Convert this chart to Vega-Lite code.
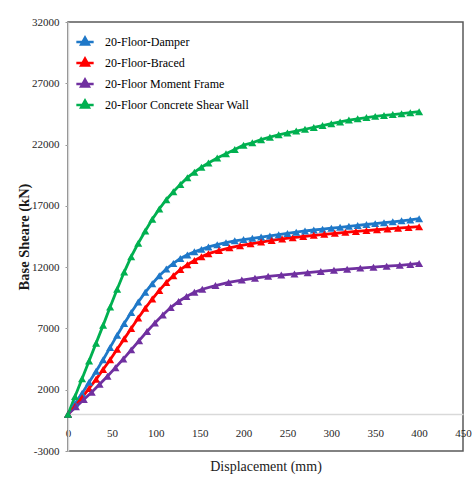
{
  "$schema": "https://vega.github.io/schema/vega-lite/v6.json",
  "width": 395,
  "height": 429,
  "autosize": {"type": "none"},
  "padding": {"left": 68, "top": 22, "right": 10, "bottom": 26},
  "background": "white",
  "config": {"view": {"stroke": "#595959", "strokeWidth": 1.5}, "font": "Liberation Serif"},
  "data": {"values": [
    {"s":"20-Floor-Damper","d":0,"v":0},{"s":"20-Floor-Damper","d":8,"v":850},{"s":"20-Floor-Damper","d":16,"v":1700},{"s":"20-Floor-Damper","d":24,"v":2600},{"s":"20-Floor-Damper","d":32,"v":3500},{"s":"20-Floor-Damper","d":40,"v":4450},{"s":"20-Floor-Damper","d":48,"v":5450},{"s":"20-Floor-Damper","d":56,"v":6450},{"s":"20-Floor-Damper","d":64,"v":7400},{"s":"20-Floor-Damper","d":72,"v":8300},{"s":"20-Floor-Damper","d":80,"v":9150},{"s":"20-Floor-Damper","d":88,"v":9950},{"s":"20-Floor-Damper","d":96,"v":10650},{"s":"20-Floor-Damper","d":104,"v":11300},{"s":"20-Floor-Damper","d":112,"v":11850},{"s":"20-Floor-Damper","d":120,"v":12300},{"s":"20-Floor-Damper","d":128,"v":12700},{"s":"20-Floor-Damper","d":136,"v":13000},{"s":"20-Floor-Damper","d":144,"v":13250},{"s":"20-Floor-Damper","d":152,"v":13450},{"s":"20-Floor-Damper","d":160,"v":13650},{"s":"20-Floor-Damper","d":170,"v":13830},{"s":"20-Floor-Damper","d":180,"v":14000},{"s":"20-Floor-Damper","d":190,"v":14150},{"s":"20-Floor-Damper","d":200,"v":14250},{"s":"20-Floor-Damper","d":210,"v":14350},{"s":"20-Floor-Damper","d":220,"v":14450},{"s":"20-Floor-Damper","d":230,"v":14550},{"s":"20-Floor-Damper","d":240,"v":14650},{"s":"20-Floor-Damper","d":250,"v":14750},{"s":"20-Floor-Damper","d":260,"v":14850},{"s":"20-Floor-Damper","d":270,"v":14950},{"s":"20-Floor-Damper","d":280,"v":15030},{"s":"20-Floor-Damper","d":290,"v":15100},{"s":"20-Floor-Damper","d":300,"v":15180},{"s":"20-Floor-Damper","d":310,"v":15250},{"s":"20-Floor-Damper","d":320,"v":15330},{"s":"20-Floor-Damper","d":330,"v":15400},{"s":"20-Floor-Damper","d":340,"v":15480},{"s":"20-Floor-Damper","d":350,"v":15550},{"s":"20-Floor-Damper","d":360,"v":15630},{"s":"20-Floor-Damper","d":370,"v":15700},{"s":"20-Floor-Damper","d":380,"v":15780},{"s":"20-Floor-Damper","d":390,"v":15850},{"s":"20-Floor-Damper","d":400,"v":15950},
    {"s":"20-Floor-Braced","d":0,"v":0},{"s":"20-Floor-Braced","d":8,"v":650},{"s":"20-Floor-Braced","d":16,"v":1350},{"s":"20-Floor-Braced","d":24,"v":2100},{"s":"20-Floor-Braced","d":32,"v":2850},{"s":"20-Floor-Braced","d":40,"v":3650},{"s":"20-Floor-Braced","d":48,"v":4450},{"s":"20-Floor-Braced","d":56,"v":5300},{"s":"20-Floor-Braced","d":64,"v":6150},{"s":"20-Floor-Braced","d":72,"v":7000},{"s":"20-Floor-Braced","d":80,"v":7850},{"s":"20-Floor-Braced","d":88,"v":8650},{"s":"20-Floor-Braced","d":96,"v":9400},{"s":"20-Floor-Braced","d":104,"v":10100},{"s":"20-Floor-Braced","d":112,"v":10750},{"s":"20-Floor-Braced","d":120,"v":11300},{"s":"20-Floor-Braced","d":128,"v":11800},{"s":"20-Floor-Braced","d":136,"v":12200},{"s":"20-Floor-Braced","d":144,"v":12550},{"s":"20-Floor-Braced","d":152,"v":12850},{"s":"20-Floor-Braced","d":160,"v":13100},{"s":"20-Floor-Braced","d":172,"v":13350},{"s":"20-Floor-Braced","d":184,"v":13580},{"s":"20-Floor-Braced","d":196,"v":13750},{"s":"20-Floor-Braced","d":208,"v":13900},{"s":"20-Floor-Braced","d":220,"v":14050},{"s":"20-Floor-Braced","d":232,"v":14180},{"s":"20-Floor-Braced","d":244,"v":14300},{"s":"20-Floor-Braced","d":256,"v":14400},{"s":"20-Floor-Braced","d":268,"v":14500},{"s":"20-Floor-Braced","d":280,"v":14600},{"s":"20-Floor-Braced","d":292,"v":14680},{"s":"20-Floor-Braced","d":304,"v":14760},{"s":"20-Floor-Braced","d":316,"v":14840},{"s":"20-Floor-Braced","d":328,"v":14910},{"s":"20-Floor-Braced","d":340,"v":14980},{"s":"20-Floor-Braced","d":352,"v":15050},{"s":"20-Floor-Braced","d":364,"v":15120},{"s":"20-Floor-Braced","d":376,"v":15180},{"s":"20-Floor-Braced","d":388,"v":15240},{"s":"20-Floor-Braced","d":400,"v":15300},
    {"s":"20-Floor Moment Frame","d":0,"v":0},{"s":"20-Floor Moment Frame","d":9,"v":600},{"s":"20-Floor Moment Frame","d":18,"v":1200},{"s":"20-Floor Moment Frame","d":27,"v":1800},{"s":"20-Floor Moment Frame","d":36,"v":2450},{"s":"20-Floor Moment Frame","d":45,"v":3100},{"s":"20-Floor Moment Frame","d":54,"v":3800},{"s":"20-Floor Moment Frame","d":63,"v":4500},{"s":"20-Floor Moment Frame","d":72,"v":5250},{"s":"20-Floor Moment Frame","d":81,"v":6000},{"s":"20-Floor Moment Frame","d":90,"v":6750},{"s":"20-Floor Moment Frame","d":99,"v":7450},{"s":"20-Floor Moment Frame","d":108,"v":8100},{"s":"20-Floor Moment Frame","d":117,"v":8700},{"s":"20-Floor Moment Frame","d":126,"v":9200},{"s":"20-Floor Moment Frame","d":135,"v":9600},{"s":"20-Floor Moment Frame","d":144,"v":9950},{"s":"20-Floor Moment Frame","d":153,"v":10200},{"s":"20-Floor Moment Frame","d":168,"v":10500},{"s":"20-Floor Moment Frame","d":183,"v":10750},{"s":"20-Floor Moment Frame","d":198,"v":10950},{"s":"20-Floor Moment Frame","d":213,"v":11100},{"s":"20-Floor Moment Frame","d":228,"v":11250},{"s":"20-Floor Moment Frame","d":243,"v":11350},{"s":"20-Floor Moment Frame","d":258,"v":11450},{"s":"20-Floor Moment Frame","d":273,"v":11550},{"s":"20-Floor Moment Frame","d":288,"v":11650},{"s":"20-Floor Moment Frame","d":303,"v":11750},{"s":"20-Floor Moment Frame","d":318,"v":11830},{"s":"20-Floor Moment Frame","d":333,"v":11920},{"s":"20-Floor Moment Frame","d":348,"v":12000},{"s":"20-Floor Moment Frame","d":363,"v":12080},{"s":"20-Floor Moment Frame","d":378,"v":12150},{"s":"20-Floor Moment Frame","d":390,"v":12220},{"s":"20-Floor Moment Frame","d":400,"v":12300},
    {"s":"20-Floor Concrete Shear Wall","d":0,"v":0},{"s":"20-Floor Concrete Shear Wall","d":8,"v":1450},{"s":"20-Floor Concrete Shear Wall","d":16,"v":2900},{"s":"20-Floor Concrete Shear Wall","d":24,"v":4350},{"s":"20-Floor Concrete Shear Wall","d":32,"v":5800},{"s":"20-Floor Concrete Shear Wall","d":40,"v":7250},{"s":"20-Floor Concrete Shear Wall","d":48,"v":8750},{"s":"20-Floor Concrete Shear Wall","d":56,"v":10200},{"s":"20-Floor Concrete Shear Wall","d":64,"v":11600},{"s":"20-Floor Concrete Shear Wall","d":72,"v":12850},{"s":"20-Floor Concrete Shear Wall","d":80,"v":13950},{"s":"20-Floor Concrete Shear Wall","d":88,"v":14950},{"s":"20-Floor Concrete Shear Wall","d":96,"v":15900},{"s":"20-Floor Concrete Shear Wall","d":104,"v":16750},{"s":"20-Floor Concrete Shear Wall","d":112,"v":17500},{"s":"20-Floor Concrete Shear Wall","d":120,"v":18150},{"s":"20-Floor Concrete Shear Wall","d":128,"v":18750},{"s":"20-Floor Concrete Shear Wall","d":136,"v":19300},{"s":"20-Floor Concrete Shear Wall","d":144,"v":19750},{"s":"20-Floor Concrete Shear Wall","d":152,"v":20150},{"s":"20-Floor Concrete Shear Wall","d":160,"v":20500},{"s":"20-Floor Concrete Shear Wall","d":170,"v":20900},{"s":"20-Floor Concrete Shear Wall","d":180,"v":21250},{"s":"20-Floor Concrete Shear Wall","d":190,"v":21600},{"s":"20-Floor Concrete Shear Wall","d":200,"v":21950},{"s":"20-Floor Concrete Shear Wall","d":210,"v":22150},{"s":"20-Floor Concrete Shear Wall","d":220,"v":22400},{"s":"20-Floor Concrete Shear Wall","d":230,"v":22600},{"s":"20-Floor Concrete Shear Wall","d":240,"v":22800},{"s":"20-Floor Concrete Shear Wall","d":250,"v":22950},{"s":"20-Floor Concrete Shear Wall","d":260,"v":23100},{"s":"20-Floor Concrete Shear Wall","d":270,"v":23250},{"s":"20-Floor Concrete Shear Wall","d":280,"v":23400},{"s":"20-Floor Concrete Shear Wall","d":290,"v":23550},{"s":"20-Floor Concrete Shear Wall","d":300,"v":23700},{"s":"20-Floor Concrete Shear Wall","d":310,"v":23850},{"s":"20-Floor Concrete Shear Wall","d":320,"v":24000},{"s":"20-Floor Concrete Shear Wall","d":330,"v":24100},{"s":"20-Floor Concrete Shear Wall","d":340,"v":24200},{"s":"20-Floor Concrete Shear Wall","d":350,"v":24300},{"s":"20-Floor Concrete Shear Wall","d":360,"v":24380},{"s":"20-Floor Concrete Shear Wall","d":370,"v":24450},{"s":"20-Floor Concrete Shear Wall","d":380,"v":24520},{"s":"20-Floor Concrete Shear Wall","d":390,"v":24600},{"s":"20-Floor Concrete Shear Wall","d":400,"v":24680}
  ]},
  "encoding": {
    "x": {
      "field": "d", "type": "quantitative",
      "scale": {"domain": [0, 450], "nice": false, "zero": false},
      "axis": {
        "title": "Displacement (mm)",
        "values": [0, 50, 100, 150, 200, 250, 300, 350, 400, 450],
        "offset": -37, "grid": false, "ticks": false,
        "domainColor": "#d9d9d9", "domainWidth": 1.5,
        "labelPadding": 13, "labelFontSize": 11, "labelColor": "#262626", "labelFont": "Liberation Serif",
        "labelFlush": false,
        "titleFontSize": 14, "titleFontWeight": "normal", "titleColor": "#1a1a1a", "titleFont": "Liberation Serif",
        "titlePadding": 21
      }
    },
    "y": {
      "field": "v", "type": "quantitative",
      "scale": {"domain": [-3000, 32000], "nice": false, "zero": false},
      "axis": {
        "title": "Base Sheare (kN)",
        "values": [-3000, 2000, 7000, 12000, 17000, 22000, 27000, 32000],
        "labelExpr": "'' + datum.value",
        "grid": false, "ticks": true, "tickSize": 3, "tickColor": "#999999",
        "domainColor": "#d9d9d9", "domainWidth": 1.5,
        "labelPadding": 6, "labelFontSize": 11, "labelColor": "#262626", "labelFont": "Liberation Serif",
        "labelFlush": false,
        "titleFontSize": 14.5, "titleFontWeight": "bold", "titleColor": "#1a1a1a", "titleFont": "Liberation Serif",
        "titleX": -37
      }
    },
    "color": {
      "field": "s", "type": "nominal",
      "scale": {
        "domain": ["20-Floor-Damper", "20-Floor-Braced", "20-Floor Moment Frame", "20-Floor Concrete Shear Wall"],
        "range": ["#1f78c8", "#ff0000", "#7030a0", "#00b050"]
      },
      "legend": {
        "title": null, "orient": "none", "legendX": 7, "legendY": 10, "padding": 0,
        "symbolType": "M-1,0L1,0M-0.45,0.3L0,-0.5L0.45,0.3Z",
        "symbolSize": 300, "symbolStrokeWidth": 2.5,
        "labelFontSize": 12, "labelColor": "#000000", "labelFont": "Liberation Serif",
        "labelOffset": 10, "rowPadding": 3,
        "encode": {"symbols": {"update": {"fill": {"scale": "color", "field": "value"}, "stroke": {"scale": "color", "field": "value"}, "opacity": {"value": 1}, "fillOpacity": {"value": 1}}}}
      }
    },
    "order": {"field": "d", "type": "quantitative"}
  },
  "layer": [
    {"mark": {"type": "line", "strokeWidth": 2.8}, "encoding": {}},
    {"mark": {"type": "point", "shape": "triangle-up", "filled": true, "size": 65, "opacity": 1}, "encoding": {}}
  ]
}
